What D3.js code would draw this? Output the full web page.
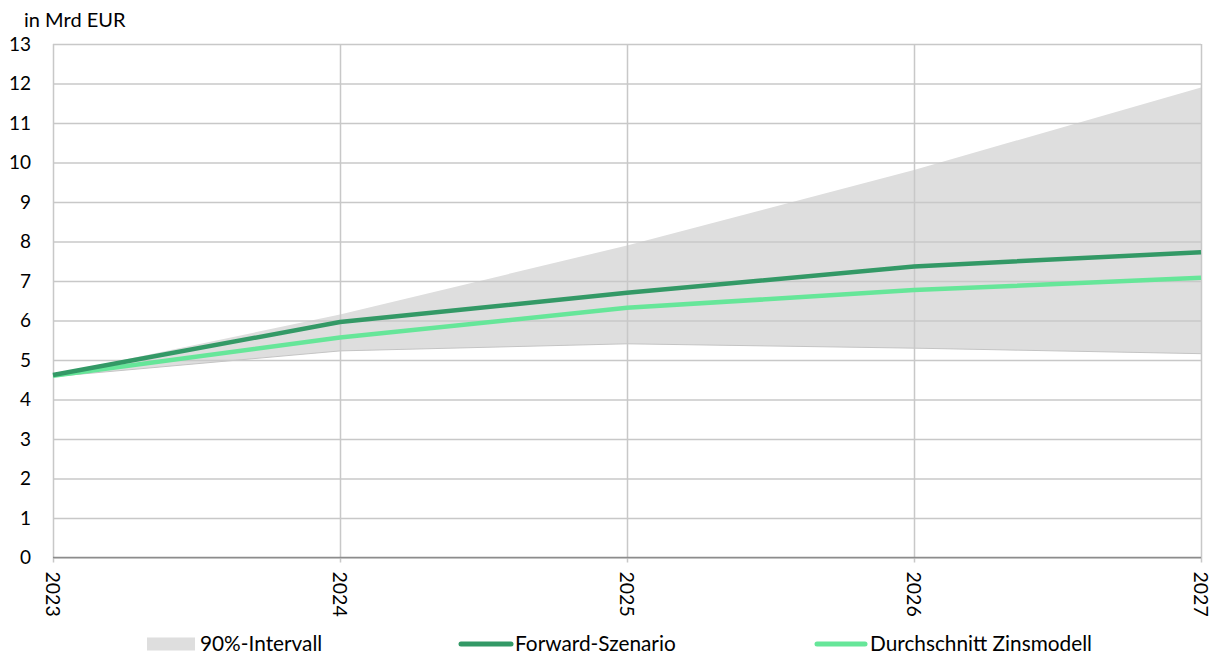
<!DOCTYPE html>
<html>
<head>
<meta charset="utf-8">
<script src="https://cdn.jsdelivr.net/npm/d3@7"></script>
<style>
  html, body { margin: 0; padding: 0; background: #fff; }
  svg { display: block; font-family: Lato, "Open Sans", sans-serif; }
</style>
</head>
<body>
<svg id="chart" width="1223" height="657"></svg>
<script>
const years = [2023, 2024, 2025, 2026, 2027];
const forwardSzenario = [4.62, 5.96, 6.70, 7.37, 7.73];
const durchschnittZinsmodell = [4.60, 5.57, 6.32, 6.77, 7.08];
const intervallOben = [4.63, 6.15, 7.90, 9.81, 11.90];
const intervallUnten = [4.58, 5.23, 5.41, 5.30, 5.16];
const yTicks = [0, 1, 2, 3, 4, 5, 6, 7, 8, 9, 10, 11, 12, 13];
const unitLabel = "in Mrd EUR";
const legendLabels = ["90%-Intervall", "Forward-Szenario", "Durchschnitt Zinsmodell"];

const colors = { band: "#dedede", forward: "#339966", avg: "#66e699", grid: "#c8c8c8", axis: "#8c8c8c" };

const svg = d3.select("#chart");
const m = { left: 53, right: 22, top: 44, bottom: 99.5 };
const W = 1223, H = 657;
const x = d3.scalePoint().domain(years).range([m.left, W - m.right]);
const y = d3.scaleLinear().domain([0, 13]).range([H - m.bottom, m.top]);

// band
const bandData = years.map((yr, i) => ({ yr, lo: intervallUnten[i], hi: intervallOben[i] }));
svg.append("path")
  .datum(bandData)
  .attr("fill", colors.band)
  .attr("d", d3.area().x(d => x(d.yr)).y0(d => y(d.lo)).y1(d => y(d.hi)));
svg.append("path")
  .datum(bandData)
  .attr("fill", "none").attr("stroke", "#c4c4c4").attr("stroke-width", 1)
  .attr("d", d3.line().x(d => x(d.yr)).y(d => y(d.lo)));

// grid
const gy = svg.append("g").attr("transform", `translate(${m.left},0)`)
  .call(d3.axisLeft(y).tickValues(yTicks).tickSize(-(W - m.left - m.right)).tickFormat(""));
gy.selectAll(".tick line").attr("stroke", colors.grid).attr("stroke-width", 1.5);
gy.select(".domain").remove();

const gx = svg.append("g").attr("transform", `translate(0,${m.top})`)
  .call(d3.axisBottom(x).tickSize(H - m.bottom - m.top + 5).tickFormat(""));
gx.selectAll(".tick line").attr("stroke", colors.grid).attr("stroke-width", 1.5);
gx.select(".domain").remove();

// x axis line at 0
svg.append("line")
  .attr("x1", m.left).attr("x2", W - m.right)
  .attr("y1", y(0)).attr("y2", y(0))
  .attr("stroke", colors.axis).attr("stroke-width", 1.5);

// y tick labels
svg.append("g").selectAll("text").data(yTicks).join("text")
  .attr("x", 31).attr("y", d => y(d)).attr("dy", "0.35em")
  .attr("text-anchor", "end").attr("font-size", 19).attr("fill", "#000")
  .text(d => d);

// x tick labels rotated
svg.append("g").selectAll("text").data(years).join("text")
  .attr("transform", d => `translate(${x(d)},${y(0) + 14}) rotate(90)`)
  .attr("dy", "0.35em").attr("text-anchor", "start")
  .attr("font-size", 19.5).attr("fill", "#000")
  .text(d => d);

// lines
const line = d3.line().x((d, i) => x(years[i])).y(d => y(d));
svg.append("path").datum(durchschnittZinsmodell)
  .attr("fill", "none").attr("stroke", colors.avg).attr("stroke-width", 4.5)
  .attr("d", line);
svg.append("path").datum(forwardSzenario)
  .attr("fill", "none").attr("stroke", colors.forward).attr("stroke-width", 4.5)
  .attr("d", line);

// unit label
svg.append("text").attr("x", 24).attr("y", 27).attr("font-size", 20).attr("fill", "#000").text(unitLabel);

// legend
const lg = svg.append("g");
const ly = 644;
const lfs = 20.8;
lg.append("rect").attr("x", 147).attr("y", ly - 6.5).attr("width", 48).attr("height", 13).attr("fill", colors.band);
lg.append("text").attr("x", 200).attr("y", ly).attr("dy", "0.35em").attr("font-size", lfs).text(legendLabels[0]);
lg.append("line").attr("x1", 461).attr("x2", 511).attr("y1", ly).attr("y2", ly)
  .attr("stroke", colors.forward).attr("stroke-width", 5).attr("stroke-linecap", "round");
lg.append("text").attr("x", 515).attr("y", ly).attr("dy", "0.35em").attr("font-size", lfs).text(legendLabels[1]);
lg.append("line").attr("x1", 817).attr("x2", 865).attr("y1", ly).attr("y2", ly)
  .attr("stroke", colors.avg).attr("stroke-width", 5).attr("stroke-linecap", "round");
lg.append("text").attr("x", 870).attr("y", ly).attr("dy", "0.35em").attr("font-size", lfs).text(legendLabels[2]);
</script>
</body>
</html>
